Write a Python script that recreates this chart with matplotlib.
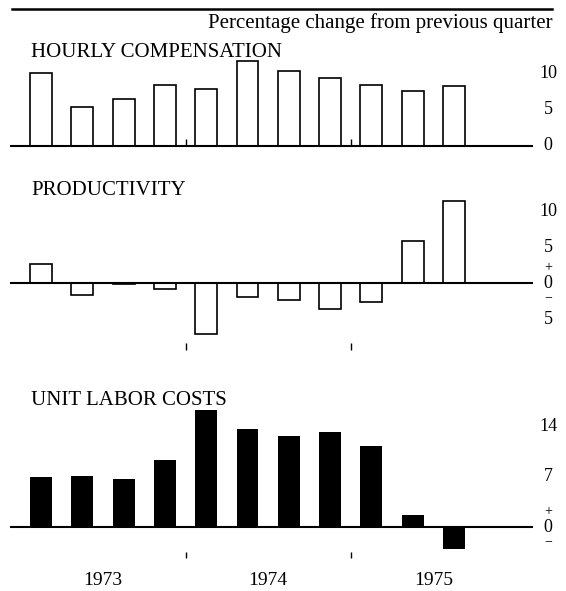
"""Quarterly changes in compensation, productivity and unit labor costs, 1973-75."""

import matplotlib

matplotlib.use("Agg")
import matplotlib.pyplot as plt
import matplotlib.transforms as mtransforms
import numpy as np

quarters = ["1973Q1", "1973Q2", "1973Q3", "1973Q4",
            "1974Q1", "1974Q2", "1974Q3", "1974Q4",
            "1975Q1", "1975Q2", "1975Q3"]
years = ["1973", "1974", "1975"]

hourly_compensation = [10.1, 5.4, 6.5, 8.5, 7.9, 11.8, 10.4, 9.4, 8.5, 7.7, 8.3]
productivity = [2.7, -1.7, -0.2, -0.8, -7.1, -1.9, -2.3, -3.6, -2.7, 5.8, 11.4]
unit_labor_costs = [7.0, 7.1, 6.7, 9.3, 16.2, 13.6, 12.7, 13.2, 11.3, 1.6, -3.0]

hourly_ticks = [10, 5, 0]
productivity_ticks = [10, 5, 0, -5]
productivity_tick_labels = ["10", "5", "0", "5"]
ulc_ticks = [14, 7, 0]

W, H = 566, 591
DPI = 100
U = 7.2  # pixels per percentage point, same in every panel
LEFT, RIGHT = 10, 532.5
XMIN, XMAX = -0.75, 11.9
FONT = "Liberation Serif"

plt.rcParams["font.family"] = [FONT, "DejaVu Serif"]

fig = plt.figure(figsize=(W / DPI, H / DPI), dpi=DPI)
x = np.arange(len(quarters))
year_bounds = [3.5, 7.5]
year_pos = [1.5, 5.5, 9.5]


def fig_text(px, py, s, **kw):
    fig.text(px / W, 1 - py / H, s, fontsize=kw.pop("fontsize", 15), **kw)


def add_panel(baseline_px, ymin, ymax):
    bottom = baseline_px - ymin * U
    top = baseline_px - ymax * U
    ax = fig.add_axes([LEFT / W, 1 - bottom / H, (RIGHT - LEFT) / W, (bottom - top) / H])
    ax.set_xlim(XMIN, XMAX)
    ax.set_ylim(ymin, ymax)
    ax.axis("off")
    ax.axhline(0, color="black", lw=1.5, zorder=3)
    return ax


def right_labels(ax, ticks, labels, signs=False):
    tr = mtransforms.blended_transform_factory(fig.transFigure, ax.transData)
    for t, lab in zip(ticks, labels):
        ax.text(548 / W, t, lab, transform=tr, ha="center", va="center",
                fontsize=13, clip_on=False)
    if signs:
        up = mtransforms.offset_copy(tr, fig=fig, y=11, units="points")
        dn = mtransforms.offset_copy(tr, fig=fig, y=-10.5, units="points")
        ax.text(548 / W, 0, "+", transform=up, ha="center", va="center",
                fontsize=10, clip_on=False)
        ax.text(548 / W, 0, "\u2212", transform=dn, ha="center", va="center",
                fontsize=10, clip_on=False)


# header
fig.add_artist(plt.Line2D([12 / W, 552 / W], [1 - 9 / H, 1 - 9 / H], color="black", lw=1.8))
fig_text(553, 28, "Percentage change from previous quarter", ha="right", va="baseline")

# hourly compensation
ax1 = add_panel(146, -1, 12.5)
ax1.bar(x, hourly_compensation, width=0.53, facecolor="white", edgecolor="black", lw=1.2, zorder=2)
ax1.vlines(year_bounds, 0, 1, color="black", lw=1)
right_labels(ax1, hourly_ticks, [str(t) for t in hourly_ticks])
fig_text(31, 57, "HOURLY COMPENSATION", va="baseline")

# productivity
ax2 = add_panel(283, -9.5, 12.5)
ax2.bar(x, productivity, width=0.53, facecolor="white", edgecolor="black", lw=1.2, zorder=2)
ax2.vlines(year_bounds, -9.3, -8.3, color="black", lw=1)
right_labels(ax2, productivity_ticks, productivity_tick_labels, signs=True)
fig_text(31, 195, "PRODUCTIVITY", va="baseline")

# unit labor costs
ax3 = add_panel(527, -4.5, 17)
ax3.bar(x, unit_labor_costs, width=0.53, color="black", zorder=2)
ax3.vlines(year_bounds, -4.3, -3.5, color="black", lw=1)
right_labels(ax3, ulc_ticks, [str(t) for t in ulc_ticks], signs=True)
fig_text(31, 405, "UNIT LABOR COSTS", va="baseline")
for pos, yr in zip(year_pos, years):
    ax3.text(pos, -7.4, yr, ha="center", va="center", fontsize=14, clip_on=False)

fig.savefig("out.png", dpi=DPI)
